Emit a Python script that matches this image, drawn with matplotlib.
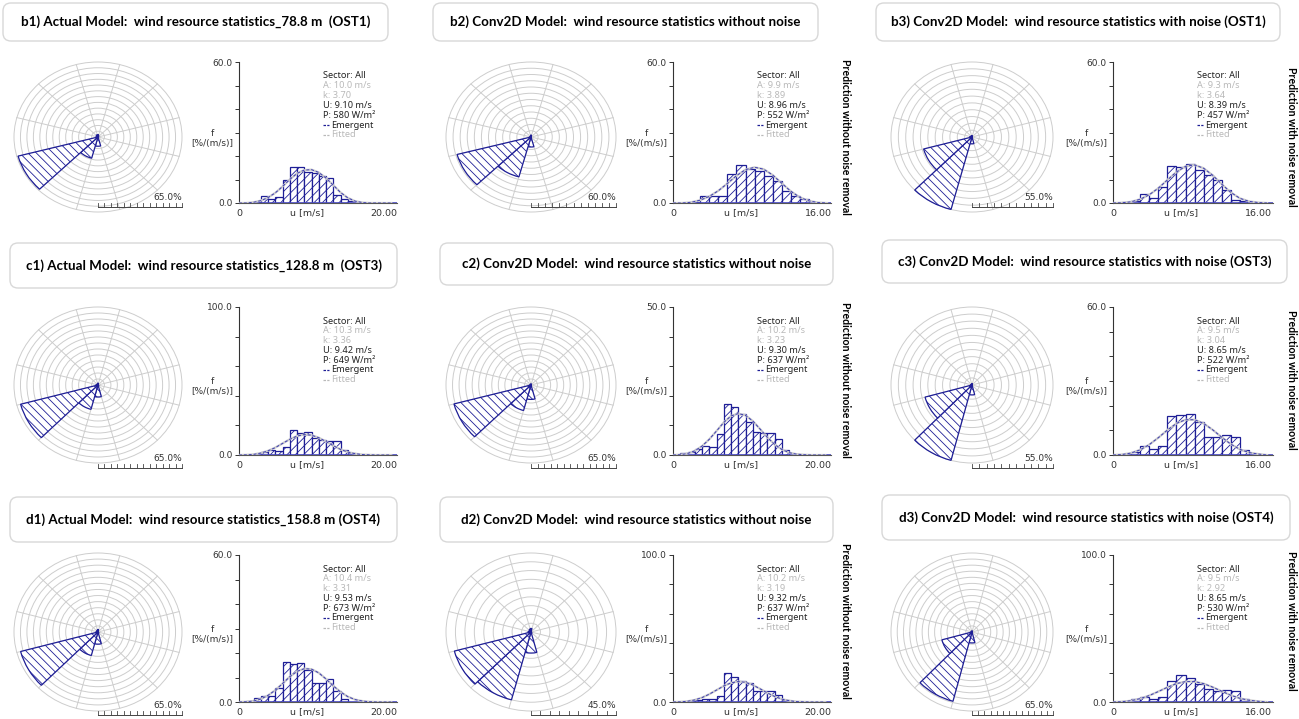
import matplotlib
matplotlib.use("Agg")
import matplotlib.pyplot as plt
from matplotlib.patches import Wedge, Circle, FancyBboxPatch
import numpy as np

# ---- data ----
titles = [
    "b1) Actual Model:  wind resource statistics_78.8 m  (OST1)",
    "b2) Conv2D Model:  wind resource statistics without noise",
    "b3) Conv2D Model:  wind resource statistics with noise (OST1)",
    "c1) Actual Model:  wind resource statistics_128.8 m  (OST3)",
    "c2) Conv2D Model:  wind resource statistics without noise",
    "c3) Conv2D Model:  wind resource statistics with noise (OST3)",
    "d1) Actual Model:  wind resource statistics_158.8 m (OST4)",
    "d2) Conv2D Model:  wind resource statistics without noise",
    "d3) Conv2D Model:  wind resource statistics with noise (OST4)",
]
side_labels = ["", "Prediction without noise removal", "Prediction with noise removal"]

# wind rose: frequency [%] of the 12 sectors 0, 30, ..., 330 deg
sectors = [0, 30, 60, 90, 120, 150, 180, 210, 240, 270, 300, 330]
rose_b1 = [2, 1, 0.3, 0.3, 0.5, 0.7, 8, 19, 64, 1.5, 0.7, 2]
rose_b2 = [1.5, 0.5, 0.2, 0.2, 0.3, 0.5, 8, 33, 54, 1, 0.3, 0.5]
rose_b3 = [1, 0.3, 0.2, 0.2, 0.3, 0.5, 5, 55, 34, 1.5, 0.5, 1]
rose_c1 = [1.5, 0.5, 0.3, 0.3, 0.5, 1, 10, 21, 62, 1.5, 0.5, 1]
rose_c2 = [1, 0.3, 0.2, 0.2, 0.3, 0.5, 12, 22, 61, 1, 0.3, 0.5]
rose_c3 = [1, 0.3, 0.2, 0.2, 0.3, 0.5, 7, 55, 33, 1, 0.3, 0.5]
rose_d1 = [2, 0.5, 0.3, 0.3, 0.5, 1, 10, 20, 62, 1.5, 0.5, 1.5]
rose_d2 = [2, 0.5, 0.2, 0.2, 0.3, 0.8, 12, 40, 42, 1.5, 0.5, 1.5]
rose_d3 = [1, 0.3, 0.2, 0.2, 0.3, 0.5, 9, 59, 25, 1, 0.3, 0.5]
roses = [rose_b1, rose_b2, rose_b3, rose_c1, rose_c2, rose_c3, rose_d1, rose_d2, rose_d3]
rose_scale = [65, 60, 55, 65, 65, 55, 65, 45, 65]

# histograms, 1 m/s bins: first bin start and frequencies [%/(m/s)]
hist_start = [2, 2, 1, 2, 1, 1, 1, 2, 1]
hist_b1 = [0.3, 3.1, 1.6, 2.7, 9.9, 15.5, 15.3, 13.3, 12.7, 11.3, 10.8, 3.5, 1.5, 0.7]
hist_b2 = [0.3, 3.1, 3.1, 3.1, 12.5, 16.3, 14.5, 13.5, 11.3, 9.2, 5.0, 2.8, 1.7]
hist_b3 = [0.3, 0.7, 3.7, 2.0, 6.8, 15.6, 15.3, 16.6, 14.2, 12.1, 9.9, 5.7, 1.4, 0.7]
hist_c1 = [0.5, 1.8, 3.4, 2.9, 5.6, 16.9, 15.1, 15.7, 11.2, 10.1, 9.4, 9.7, 3.4, 1.1]
hist_c2 = [0.6, 0.9, 1.9, 3.0, 2.6, 7.1, 17.1, 16.1, 14.0, 11.2, 7.9, 7.5, 7.5, 5.3, 1.7]
hist_c3 = [0.4, 1.2, 3.8, 2.4, 3.8, 16.0, 16.4, 16.7, 13.3, 7.5, 7.5, 8.1, 7.2, 2.0]
hist_d1 = [0.5, 1.6, 2.3, 2.3, 5.7, 16.3, 15.6, 16.1, 13.2, 7.7, 7.7, 9.4, 4.3, 1.2]
hist_d2 = [0.4, 1.1, 2.2, 2.2, 3.8, 19.7, 17.2, 14.1, 12.8, 7.4, 7.4, 7.8, 4.5, 1.1]
hist_d3 = [0.5, 1.8, 3.4, 2.3, 3.4, 14.3, 18.4, 16.6, 12.0, 9.1, 7.5, 8.0, 7.5, 1.8]
hists = [hist_b1, hist_b2, hist_b3, hist_c1, hist_c2, hist_c3, hist_d1, hist_d2, hist_d3]

# fitted curve, read at integer speeds 0, 1, 2, ...
fit_b1 = [0, 0, 0.3, 1.0, 2.3, 4.3, 7.0, 10.0, 12.6, 14.0, 14.2, 13.0, 10.6, 7.6, 4.5, 2.2, 0.8, 0.2, 0, 0, 0, 0]
fit_b2 = [0, 0, 0.3, 1.2, 2.8, 5.2, 8.3, 11.6, 14.2, 15.2, 14.4, 11.9, 8.4, 5.0, 2.4, 0.9, 0.2, 0]
fit_b3 = [0, 0.1, 0.5, 1.6, 3.5, 6.3, 9.8, 13.2, 15.6, 16.2, 14.8, 11.8, 8.0, 4.5, 2.0, 0.7, 0.2, 0]
fit_c1 = [0, 0.1, 0.4, 1.3, 2.8, 5.0, 7.8, 10.6, 12.8, 13.8, 13.4, 11.7, 9.1, 6.3, 3.8, 2.0, 0.9, 0.3, 0.1, 0, 0, 0]
fit_c2 = [0, 0.1, 0.5, 1.4, 3.0, 5.3, 8.1, 11.0, 13.2, 14.0, 13.4, 11.5, 8.8, 6.0, 3.6, 1.9, 0.8, 0.3, 0.1, 0, 0, 0]
fit_c3 = [0, 0.2, 0.8, 2.1, 4.2, 7.0, 10.1, 12.8, 14.3, 14.3, 12.8, 10.2, 7.2, 4.4, 2.3, 1.0, 0.4, 0]
fit_d1 = [0, 0.1, 0.4, 1.2, 2.7, 4.8, 7.5, 10.3, 12.5, 13.6, 13.4, 11.9, 9.4, 6.6, 4.1, 2.2, 1.0, 0.4, 0.1, 0, 0, 0]
fit_d2 = [0, 0.1, 0.5, 1.4, 3.0, 5.3, 8.1, 10.9, 13.0, 13.9, 13.4, 11.6, 9.0, 6.2, 3.8, 2.0, 0.9, 0.3, 0.1, 0, 0, 0]
fit_d3 = [0, 0.2, 0.9, 2.3, 4.4, 7.1, 10.0, 12.5, 13.9, 13.9, 12.5, 10.1, 7.3, 4.6, 2.5, 1.2, 0.5, 0]
fits = [fit_b1, fit_b2, fit_b3, fit_c1, fit_c2, fit_c3, fit_d1, fit_d2, fit_d3]

y_max = [60, 60, 60, 100, 50, 60, 60, 100, 100]
x_max = [20, 16, 16, 20, 20, 16, 20, 20, 16]

stat_A = ["10.0", "9.9", "9.3", "10.3", "10.2", "9.5", "10.4", "10.2", "9.5"]
stat_k = ["3.70", "3.89", "3.64", "3.36", "3.23", "3.04", "3.31", "3.19", "2.92"]
stat_U = ["9.10", "8.96", "8.39", "9.42", "9.30", "8.65", "9.53", "9.32", "8.65"]
stat_P = ["580", "552", "457", "649", "637", "522", "673", "637", "530"]

# ---- layout (pixels) ----
W, H = 1299, 719
title_boxes = [(3, 3, 388, 41), (433, 3, 818, 41), (876, 3, 1280, 41),
               (10, 243, 397, 288), (440, 243, 833, 285), (882, 240, 1287, 283),
               (10, 497, 397, 542), (440, 497, 833, 542), (882, 495, 1290, 540)]
rose_cx = [98, 531, 972]
rose_rx = [84, 85, 81]
rose_cy = [137, 385, 632]
rose_ry = [75, 78, 79]
bar_y = [-0.93, -1.06, -1.05]
hist_x0 = [239, 673, 1113]
hist_w = [158, 158, 160]
hist_bot = [203, 455, 702]
hist_top = [62, 307, 555]
side_x = [0, 845, 1291]
side_y = [137, 380, 621]

BLUE = "#1e1e96"
GREY = "#b9b9b9"
plt.rcParams["hatch.linewidth"] = 0.6
plt.rcParams["font.family"] = "DejaVu Sans"

fig = plt.figure(figsize=(W / 100, H / 100), dpi=100)


def pix_axes(x0, y0, x1, y1):
    return fig.add_axes([x0 / W, 1 - y1 / H, (x1 - x0) / W, (y1 - y0) / H])


for i in range(9):
    r, c = divmod(i, 3)

    # title box
    x0, y0, x1, y1 = title_boxes[i]
    fig.add_artist(FancyBboxPatch((x0 / 100, (H - y1) / 100), (x1 - x0) / 100, (y1 - y0) / 100,
                                  boxstyle="round,pad=0,rounding_size=0.08",
                                  transform=fig.dpi_scale_trans, fc="white", ec="#d8d8d8", lw=1.0))
    fig.text((x0 + x1) / 2 / W, 1 - (y0 + y1) / 2 / H, titles[i], ha="center", va="center",
             fontsize=9.6, fontweight="bold", family="Lato")

    # wind rose
    cx, cy, rx, ry = rose_cx[c], rose_cy[r], rose_rx[c], rose_ry[r]
    L = 1.2
    ax = pix_axes(cx - rx * L, cy - ry * L, cx + rx * L, cy + ry * L)
    ax.set_xlim(-L, L)
    ax.set_ylim(-L, L)
    ax.axis("off")
    scale = rose_scale[i]
    n = int(scale / 5)
    for k in range(1, n + 1):
        ax.add_patch(Circle((0, 0), k / n, fill=False, ec="#cdcdcd", lw=0.7))
    for b in np.arange(15, 360, 30):
        ax.plot([0, np.sin(np.radians(b))], [0, np.cos(np.radians(b))], color="#cdcdcd", lw=0.7)
    for s, v in zip(sectors, roses[i]):
        ax.add_patch(Wedge((0, 0), v / scale, 90 - s - 15, 90 - s + 15, fc="white",
                           ec=BLUE, lw=0.9, hatch="\\\\\\\\", zorder=3))
    yb = bar_y[r]
    ax.plot([0, 1], [yb, yb], color="#444444", lw=0.7, zorder=4)
    for k in range(n + 1):
        ax.plot([k / n, k / n], [yb, yb + 0.045], color="#444444", lw=0.6, zorder=4)
    ax.text(1.0, yb + 0.06, f"{scale:.1f}%", ha="right", va="bottom", fontsize=6.5, color="#333333")

    # histogram
    hx, hw = hist_x0[c], hist_w[c]
    ht, hb = hist_top[r], hist_bot[r]
    hh = hb - ht
    ax = pix_axes(hx, ht, hx + hw, hb)
    xm = x_max[i]
    ax.set_xlim(0, xm * hw / 145)
    ax.set_ylim(0, y_max[i])
    vals = hists[i]
    bins = np.arange(hist_start[i], hist_start[i] + len(vals))
    ax.bar(bins, vals, width=1, align="edge", fc="white", ec=BLUE, lw=0.9, hatch="////", zorder=2)
    ax.axhline(0, color="#4b4bc8", lw=1.2, zorder=2.5)
    fit = fits[i]
    ax.plot(np.arange(len(fit)), fit, color="#cccccc", lw=1.6, zorder=3)
    ax.plot(np.arange(len(fit)), fit, color="#3c3cb4", lw=0.7, ls=(0, (3, 2)), zorder=3.5)

    for side in ["top", "right"]:
        ax.spines[side].set_visible(False)
    ax.spines["left"].set_color("#333333")
    ax.spines["bottom"].set_color("#555555")
    ax.spines["left"].set_linewidth(0.8)
    ax.spines["bottom"].set_linewidth(0.8)
    step = 20 if y_max[i] == 100 else 10
    yt = np.arange(0, y_max[i] + 0.1, step)
    ax.set_yticks(yt)
    ax.set_yticklabels([f"{t:.1f}" if t in (0, y_max[i]) else "" for t in yt])
    ax.tick_params(axis="y", length=3, width=0.7, labelsize=6.5, pad=1.5, colors="#333333")
    ax.set_xticks([0, 0.47 * xm, xm])
    ax.set_xticklabels(["0", "u [m/s]", f"{xm:.2f}"])
    ax.tick_params(axis="x", length=0, labelsize=6.8, pad=4, colors="#333333")
    ax.text(-27 / hw, 0.46, "f\n[%/(m/s)]", transform=ax.transAxes, ha="center", va="center",
            fontsize=6.5, color="#333333", linespacing=1.15)

    # statistics block
    lines = [("Sector: All", "#222222"), (f"A: {stat_A[i]} m/s", GREY), (f"k: {stat_k[i]}", GREY),
             (f"U: {stat_U[i]} m/s", "#222222"), (f"P: {stat_P[i]} W/m²", "#222222")]
    for k, (s, col) in enumerate(lines):
        ax.text(84 / hw, 1 - (14 + 9.8 * k) / hh, s, transform=ax.transAxes, ha="left", va="center",
                fontsize=6.6, color=col, family="Noto Sans")
    for k, (s, lc, tc) in enumerate([("Emergent", BLUE, "#222222"), ("Fitted", GREY, GREY)]):
        yy = 1 - (14 + 9.8 * (k + 5)) / hh
        ax.plot([84 / hw, 90 / hw], [yy, yy], transform=ax.transAxes, color=lc, lw=0.9,
                ls=(0, (2, 1)), clip_on=False)
        ax.text(92 / hw, yy, s, transform=ax.transAxes, ha="left", va="center",
                fontsize=6.6, color=tc, family="Noto Sans")

    if c > 0:
        fig.text(side_x[c] / W, 1 - side_y[r] / H, side_labels[c], rotation=-90, ha="center",
                 va="center", fontsize=7.6, fontweight="bold", family="Lato")

fig.savefig("out.png", dpi=100)
